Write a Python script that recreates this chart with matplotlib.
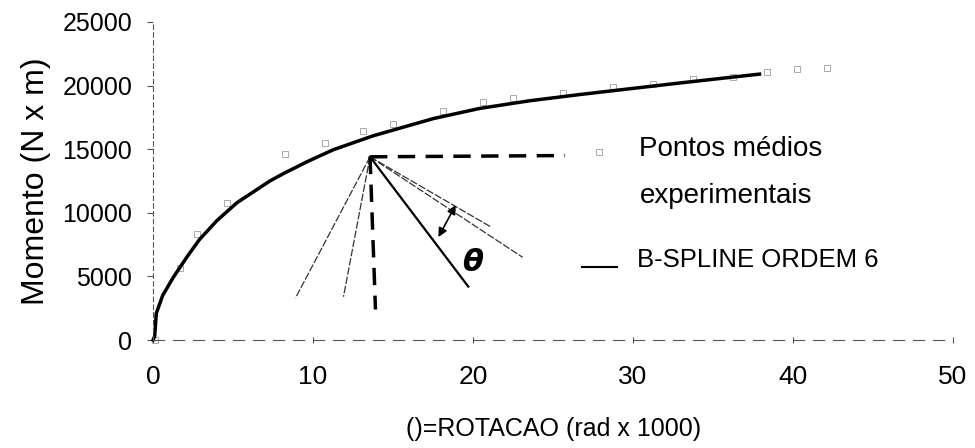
import matplotlib
matplotlib.use('Agg')
import matplotlib.pyplot as plt
import numpy as np

plt.rcParams['font.family'] = ['Liberation Sans', 'DejaVu Sans']

# B-spline curve (rotation x 1000, moment N x m)
curve_x = [0, 0.1, 0.2, 0.6, 1.25, 2.1, 2.9, 4.0, 5.25, 7.3, 8.1, 9.6, 11.25,
           13.75, 17.5, 20.4, 23.5, 26.7, 32.9, 37.9]
curve_y = [0, 300, 2100, 3500, 4900, 6500, 7900, 9400, 10800, 12500, 13050,
           14000, 14950, 16050, 17400, 18200, 18800, 19300, 20200, 20900]

# experimental mean points
pts_x = [0.1, 1.7, 2.75, 4.6, 8.25, 10.75, 13.1, 15.0, 18.1, 20.6, 22.5, 25.6,
         28.75, 31.25, 33.75, 36.25, 38.4, 40.25, 42.1]
pts_y = [0, 5700, 8300, 10800, 14600, 15500, 16400, 17000, 18000, 18700, 19000,
         19400, 19900, 20100, 20500, 20700, 21100, 21300, 21400]

# tangent construction
pivot = (13.56, 14400)
thin_end_x = [8.9, 11.9, 23.1, 21.1]
thin_end_y = [3300, 3400, 6500, 8900]
mid_end = (19.7, 4200)
vert_end = (13.9, 2400)
horiz_end = (25.75, 14500)
arrow_from = (17.75, 7900)
arrow_to = (19.0, 10800)

fig = plt.figure(figsize=(9.75, 4.48), dpi=100)
ax = fig.add_axes([0.157, 0.241, 0.8205, 0.71])

ax.plot(pts_x, pts_y, 's', ms=4.5, mfc='none', mec='#aaaaaa', mew=0.7, clip_on=False)
ax.plot(curve_x, curve_y, color='black', lw=2.5, clip_on=False,
        solid_joinstyle='round')

for ex, ey in zip(thin_end_x, thin_end_y):
    ax.plot([pivot[0], ex], [pivot[1], ey], color='#333333', lw=0.9,
            ls=(0, (6, 1.5)))
ax.plot([pivot[0], mid_end[0]], [pivot[1], mid_end[1]], color='black', lw=1.6)
ax.plot([pivot[0], vert_end[0]], [pivot[1], vert_end[1]], color='black', lw=2.5,
        ls=(0, (5, 3)))
ax.plot([pivot[0], horiz_end[0]], [pivot[1], horiz_end[1]], color='black', lw=2.5,
        ls=(0, (5, 3)))
ax.annotate('', xy=arrow_to, xytext=arrow_from,
            arrowprops=dict(arrowstyle='<|-|>', color='black', lw=1.2,
                            mutation_scale=13))
ax.text(20.0, 6100, 'θ', fontsize=22, fontstyle='italic', fontweight='bold',
        ha='center', va='center', family='DejaVu Sans')

# legend drawn as text
ax.plot([27.9], [14800], 's', ms=4.5, mfc='none', mec='#aaaaaa', mew=0.7)
ax.text(30.4, 15000, 'Pontos médios', fontsize=20, va='center', ha='left')
ax.text(30.4, 11300, 'experimentais', fontsize=20, va='center', ha='left')
ax.plot([26.8, 29.0], [5750, 5750], color='black', lw=1.5)
ax.text(30.25, 6300, 'B-SPLINE ORDEM 6', fontsize=18.5, va='center', ha='left')

ax.set_xlim(0, 50)
ax.set_ylim(0, 25000)
ax.set_xticks([0, 10, 20, 30, 40, 50])
ax.set_yticks([0, 5000, 10000, 15000, 20000, 25000])
ax.tick_params(axis='x', labelsize=19, pad=16, length=4, direction='inout',
               color='#555555', width=0.8)
ax.tick_params(axis='y', labelsize=18, pad=11, length=4, color='#555555', width=0.8)

for s in ['top', 'right']:
    ax.spines[s].set_visible(False)
ax.spines['left'].set_linestyle((0, (4, 3)))
ax.spines['left'].set_color('#555555')
ax.spines['left'].set_linewidth(0.8)
ax.spines['bottom'].set_linestyle((0, (10, 8)))
ax.spines['bottom'].set_color('#555555')
ax.spines['bottom'].set_linewidth(0.8)

ax.set_ylabel('Momento (N x m)', fontsize=23, labelpad=8)
ax.set_xlabel('()=ROTACAO (rad x 1000)', fontsize=18, labelpad=20)

fig.savefig('out.png', dpi=100)
